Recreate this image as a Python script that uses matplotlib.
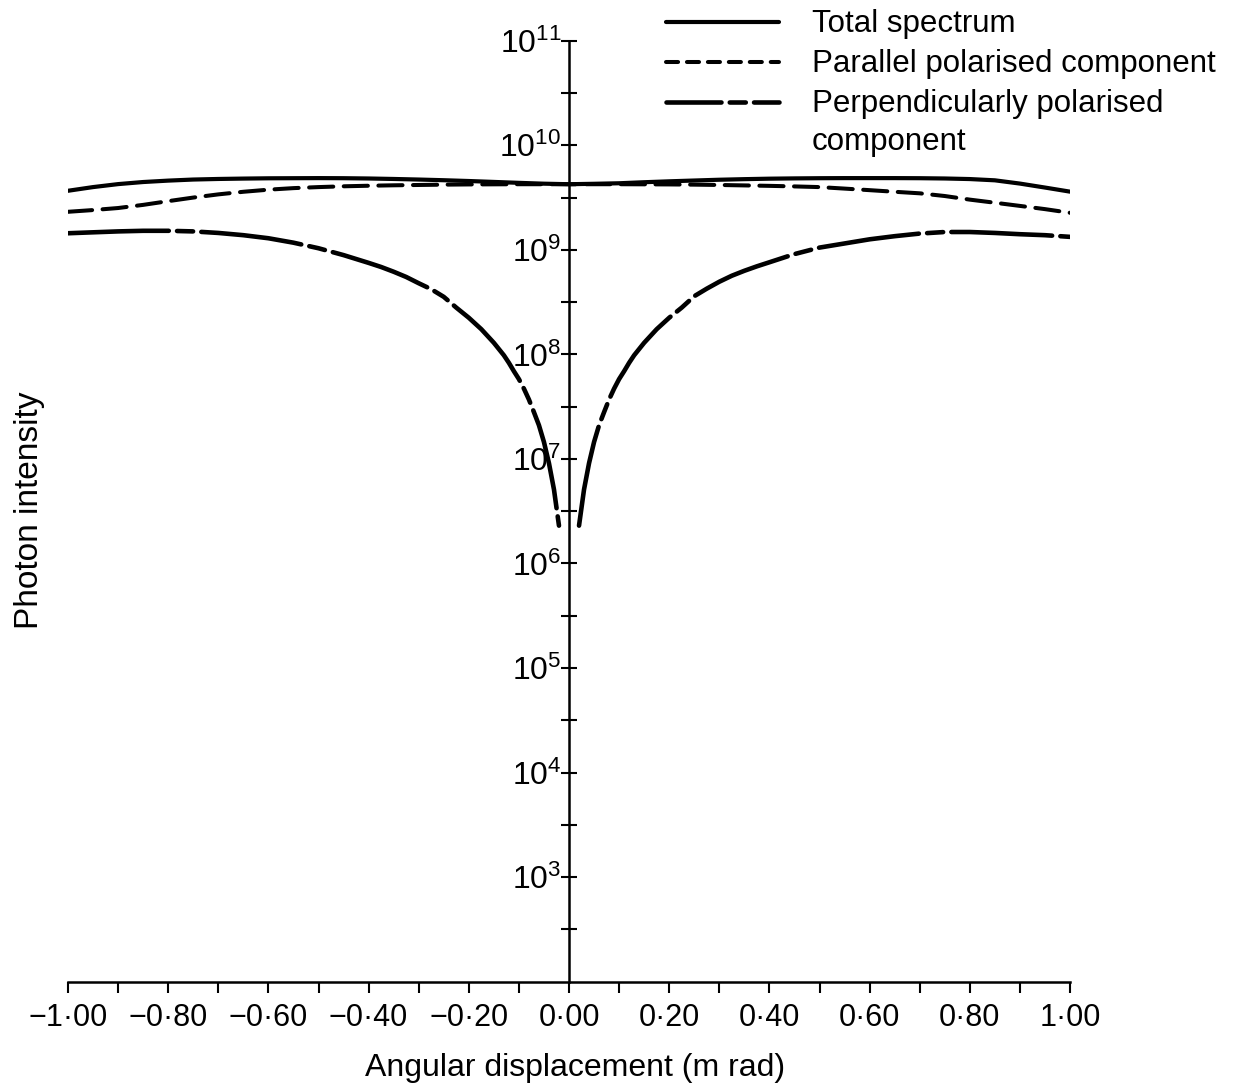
import numpy as np
import matplotlib
matplotlib.use("Agg")
import matplotlib.pyplot as plt
from matplotlib.lines import Line2D
from matplotlib.ticker import FixedLocator, FixedFormatter, NullFormatter

plt.rcParams["font.family"] = ["Liberation Sans", "DejaVu Sans"]
plt.rcParams["mathtext.fontset"] = "custom"
plt.rcParams["mathtext.rm"] = "Liberation Sans"
plt.rcParams["mathtext.it"] = "Liberation Sans:italic"
plt.rcParams["mathtext.bf"] = "Liberation Sans:bold"

# angular displacement (m rad), every 0.05 from -1 to 1
theta = [-1.00, -0.95, -0.90, -0.85, -0.80, -0.75, -0.70, -0.65, -0.60, -0.55,
         -0.50, -0.45, -0.40, -0.35, -0.30, -0.25, -0.20, -0.15, -0.10, -0.05,
         0.00, 0.05, 0.10, 0.15, 0.20, 0.25, 0.30, 0.35, 0.40, 0.45,
         0.50, 0.55, 0.60, 0.65, 0.70, 0.75, 0.80, 0.85, 0.90, 0.95, 1.00]
total = [3.67e9, 3.98e9, 4.25e9, 4.45e9, 4.59e9, 4.70e9, 4.76e9, 4.80e9, 4.83e9, 4.84e9,
         4.85e9, 4.84e9, 4.81e9, 4.76e9, 4.70e9, 4.63e9, 4.55e9, 4.46e9, 4.37e9, 4.29e9,
         4.24e9, 4.28e9, 4.33e9, 4.43e9, 4.52e9, 4.60e9, 4.68e9, 4.74e9, 4.79e9, 4.82e9,
         4.84e9, 4.85e9, 4.85e9, 4.85e9, 4.84e9, 4.81e9, 4.75e9, 4.62e9, 4.30e9, 3.94e9,
         3.60e9]
parallel = [2.31e9, 2.40e9, 2.51e9, 2.69e9, 2.92e9, 3.16e9, 3.39e9, 3.59e9, 3.76e9, 3.89e9,
            3.98e9, 4.05e9, 4.10e9, 4.14e9, 4.17e9, 4.20e9, 4.22e9, 4.23e9, 4.24e9, 4.24e9,
            4.24e9, 4.24e9, 4.24e9, 4.23e9, 4.22e9, 4.20e9, 4.17e9, 4.13e9, 4.09e9, 4.04e9,
            3.98e9, 3.85e9, 3.72e9, 3.59e9, 3.47e9, 3.27e9, 3.02e9, 2.82e9, 2.63e9, 2.45e9,
            2.26e9]

# perpendicular component: two branches either side of its zero at 0
theta_perp_left = [-1.00, -0.95, -0.90, -0.85, -0.80, -0.75, -0.70, -0.65, -0.60, -0.55,
                   -0.50, -0.45, -0.40, -0.375, -0.35, -0.325, -0.30, -0.275, -0.25,
                   -0.225, -0.20, -0.175, -0.15, -0.13, -0.12, -0.11, -0.10, -0.09,
                   -0.08, -0.07, -0.06, -0.05, -0.04, -0.03, -0.02]
perp_left = [1.44e9, 1.47e9, 1.50e9, 1.52e9, 1.52e9, 1.50e9, 1.45e9, 1.38e9, 1.29e9, 1.17e9,
             1.035e9, 8.9e8, 7.5e8, 6.85e8, 6.17e8, 5.5e8, 4.79e8, 4.2e8, 3.55e8,
             2.8e8, 2.24e8, 1.74e8, 1.29e8, 9.8e7, 8.3e7, 6.9e7, 5.8e7, 4.7e7,
             3.7e7, 2.8e7, 2.1e7, 1.45e7, 9.1e6, 5.1e6, 2.3e6]
theta_perp_right = [0.02, 0.03, 0.04, 0.05, 0.06, 0.07, 0.08, 0.09, 0.10, 0.11,
                    0.12, 0.13, 0.15, 0.175, 0.20, 0.225, 0.25, 0.275, 0.30, 0.325,
                    0.35, 0.375, 0.40, 0.45, 0.50, 0.55, 0.60, 0.65, 0.70, 0.75,
                    0.80, 0.85, 0.90, 0.95, 1.00]
perp_right = [2.3e6, 5.1e6, 9.1e6, 1.45e7, 2.1e7, 2.8e7, 3.7e7, 4.7e7, 5.8e7, 6.9e7,
              8.3e7, 9.8e7, 1.29e8, 1.74e8, 2.24e8, 2.8e8, 3.6e8, 4.25e8, 4.95e8, 5.65e8,
              6.3e8, 6.95e8, 7.6e8, 9.1e8, 1.05e9, 1.15e9, 1.26e9, 1.35e9, 1.43e9, 1.48e9,
              1.48e9, 1.45e9, 1.41e9, 1.38e9, 1.33e9]

x_major = [-1.0, -0.8, -0.6, -0.4, -0.2, 0.0, 0.2, 0.4, 0.6, 0.8, 1.0]
x_labels = ["\u22121\u00b700", "\u22120\u00b780", "\u22120\u00b760", "\u22120\u00b740",
            "\u22120\u00b720", "0\u00b700", "0\u00b720", "0\u00b740", "0\u00b760",
            "0\u00b780", "1\u00b700"]
x_minor = [-0.9, -0.7, -0.5, -0.3, -0.1, 0.1, 0.3, 0.5, 0.7, 0.9]
y_exponents = [3, 4, 5, 6, 7, 8, 9, 10, 11]

W, H = 1260, 1090
fig = plt.figure(figsize=(W / 100, H / 100), dpi=100)
ax = fig.add_axes([68 / W, 1 - 981.7 / H, (1070 - 68) / W, (981.7 - 40.7) / H])

solid = dict(color="black", lw=3.0, solid_capstyle="round", solid_joinstyle="round")
dashed = dict(color="black", lw=2.9, dashes=(6.0, 2.6), dash_capstyle="round")
dashdot = dict(color="black", lw=3.3, dashes=(22, 1.8, 3.5, 1.8), dash_capstyle="round")

ax.plot(theta, total, **solid)
ax.plot(theta, parallel, **dashed)
ax.plot(theta_perp_left, perp_left, **dashdot)
ax.plot(theta_perp_right, perp_right, **dashdot)

ax.set_yscale("log")
ax.set_xlim(-1, 1)
ax.set_ylim(1e2, 1e11)

for side in ("top", "right"):
    ax.spines[side].set_visible(False)
ax.spines["left"].set_position(("data", 0))
ax.spines["left"].set_linewidth(1.8)
ax.spines["bottom"].set_linewidth(1.8)

ax.yaxis.set_major_locator(FixedLocator([10.0 ** e for e in y_exponents]))
ax.yaxis.set_major_formatter(FixedFormatter(["$10^{%d}$" % e for e in y_exponents]))
ax.yaxis.set_minor_locator(FixedLocator([10.0 ** (e + 0.5) for e in range(2, 11)]))
ax.yaxis.set_minor_formatter(NullFormatter())
ax.tick_params(axis="y", which="both", direction="inout", length=11, width=1.5,
               labelsize=23, pad=0)

ax.xaxis.set_major_locator(FixedLocator(x_major))
ax.xaxis.set_major_formatter(FixedFormatter(x_labels))
ax.xaxis.set_minor_locator(FixedLocator(x_minor))
ax.tick_params(axis="x", which="both", direction="out", length=8, width=1.5,
               labelsize=22, pad=7)

fig.text(575 / W, 1 - 1068 / H, "Angular displacement (m rad)", fontsize=23,
         ha="center", va="center")
fig.text(30 / W, 1 - 510 / H, "Photon intensity", fontsize=24, rotation=90,
         ha="center", va="center")

# key in the top right corner
key_lines = [(22, solid), (62, dict(dashed, dashes=(3.0, 2.2))),
             (102, dict(dashdot, dashes=(12, 1.8, 3.5, 1.8)))]
for ypix, style in key_lines:
    yf = 1 - ypix / H
    fig.add_artist(Line2D([666 / W, 779 / W], [yf, yf], transform=fig.transFigure, **style))

key_text = [(32, "Total spectrum"), (72, "Parallel polarised component"),
            (112, "Perpendicularly polarised"), (150, "component")]
for ypix, label in key_text:
    fig.text(812 / W, 1 - ypix / H, label, fontsize=22.5, ha="left", va="baseline")

fig.savefig("out.png", dpi=100)
